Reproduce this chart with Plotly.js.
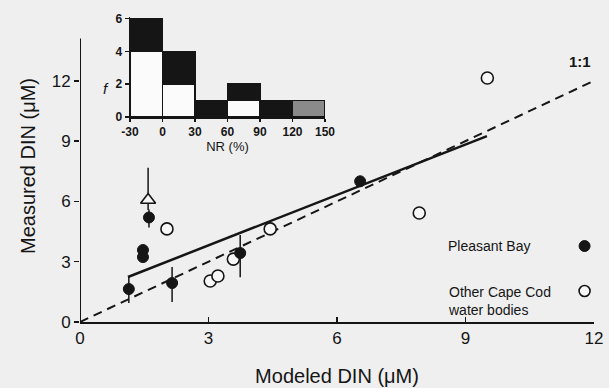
<!DOCTYPE html>
<html>
<head>
<meta charset="utf-8">
<script src="https://cdn.plot.ly/plotly-3.0.1.min.js"></script>
<style>html,body{margin:0;padding:0;background:#efefef;}</style>
</head>
<body>
<div id="chart" style="width:609px;height:388px;"></div>
<script>
// Pleasant Bay (filled circles)
var pbX = [1.14, 1.47, 1.47, 1.61, 2.15, 3.74, 6.54];
var pbY = [1.64, 3.58, 3.23, 5.20, 1.94, 3.43, 7.00];
var pbErrPlus  = [0.6, 0, 0, 0.4, 0.8, 0.9, 0];
var pbErrMinus = [0.7, 0, 0, 0.5, 0.95, 1.2, 0];
// Open triangle
var triX = [1.59];
var triY = [6.07];
var triErrPlus = [1.6];
var triErrMinus = [0.5];
// Other Cape Cod water bodies (open circles)
var ocX = [2.03, 3.04, 3.22, 3.58, 4.44, 7.92, 9.51];
var ocY = [4.63, 2.04, 2.29, 3.13, 4.63, 5.42, 12.14];
// Regression line and 1:1 line
var fitX = [1.12, 9.5];
var fitY = [2.24, 9.25];
var oneX = [0, 12];
var oneY = [0, 12];
// Inset histogram of NR (%)
var nrBins = [-15, 15, 45, 75, 105, 135];
var openCounts = [4, 2, 0, 1, 0, 0];
var filledCounts = [2, 2, 1, 1, 1, 0];
var triCounts = [0, 0, 0, 0, 0, 1];
var mainTicks = [0, 3, 6, 9, 12];
var nrTicks = [-30, 0, 30, 60, 90, 120, 150];
var nrTickText = ['-30', '0', '30', '60', '90', '120', '150'];
var fTicks = [0, 2, 4, 6];

var FONT = 'Liberation Sans, Arial, sans-serif';
var INK = '#151515';
var BG = '#efefef';

var traces = [
  {x: oneX, y: oneY, mode: 'lines', line: {color: INK, width: 2, dash: '9px,6px'}, hoverinfo: 'skip'},
  {x: fitX, y: fitY, mode: 'lines', line: {color: INK, width: 2.5}, hoverinfo: 'skip'},
  {x: ocX, y: ocY, mode: 'markers', marker: {symbol: 'circle', size: 12, color: '#f7f7f7', line: {color: INK, width: 1.6}}},
  {x: triX, y: triY, mode: 'markers', marker: {symbol: 'triangle-up', size: 13, color: '#f7f7f7', line: {color: INK, width: 1.6}},
   error_y: {type: 'data', symmetric: false, array: triErrPlus, arrayminus: triErrMinus, width: 0, thickness: 1.5, color: INK}},
  {x: pbX, y: pbY, mode: 'markers', marker: {symbol: 'circle', size: 11, color: INK, line: {color: INK, width: 1}},
   error_y: {type: 'data', symmetric: false, array: pbErrPlus, arrayminus: pbErrMinus, width: 0, thickness: 1.5, color: INK}},
  {type: 'bar', x: nrBins, y: openCounts, width: 30, xaxis: 'x2', yaxis: 'y2', marker: {color: '#fbfbfb', line: {color: INK, width: 1.5}}},
  {type: 'bar', x: nrBins, y: filledCounts, width: 30, xaxis: 'x2', yaxis: 'y2', marker: {color: INK, line: {color: INK, width: 1.5}}},
  {type: 'bar', x: nrBins, y: triCounts, width: 30, xaxis: 'x2', yaxis: 'y2', marker: {color: '#8a8a8a', line: {color: INK, width: 1.5}}}
];

var layout = {
  width: 609, height: 388,
  margin: {l: 80, r: 15, t: 10, b: 66},
  paper_bgcolor: BG, plot_bgcolor: 'rgba(0,0,0,0)',
  showlegend: false,
  barmode: 'stack',
  font: {family: FONT, color: INK},
  xaxis: {
    range: [0, 12], tickvals: mainTicks, ticks: 'inside', ticklen: 5, tickwidth: 1.5, tickcolor: INK,
    showline: true, linecolor: INK, linewidth: 2, showgrid: false, zeroline: false,
    tickfont: {size: 17, family: FONT, color: INK},
    title: {text: 'Modeled DIN (\u03bcM)', font: {size: 20, family: FONT, color: INK}, standoff: 22}
  },
  yaxis: {
    range: [0, 15.52], tickvals: mainTicks, ticks: 'outside', ticklen: 5, tickwidth: 1.5, tickcolor: INK,
    showline: false, showgrid: false, zeroline: false,
    tickfont: {size: 17, family: FONT, color: INK},
    title: {text: 'Measured DIN (\u03bcM)', font: {size: 20, family: FONT, color: INK}, standoff: 10}
  },
  xaxis2: {
    domain: [0.0973, 0.4767], anchor: 'y2', range: [-30, 150], tickvals: nrTicks, ticktext: nrTickText,
    ticks: 'outside', ticklen: 3, tickwidth: 1.5, tickcolor: INK,
    showline: true, linecolor: INK, linewidth: 1.5, showgrid: false, zeroline: false,
    tickfont: {size: 12, family: FONT, color: INK, weight: 'bold'},
    title: {text: 'NR (%)', font: {size: 13, family: FONT, color: INK}, standoff: 4}
  },
  yaxis2: {
    domain: [0.657, 0.9776], anchor: 'x2', range: [0, 6.1], tickvals: fTicks,
    ticks: 'outside', ticklen: 4, tickwidth: 1.5, tickcolor: INK,
    showline: true, linecolor: INK, linewidth: 1.5, showgrid: false, zeroline: false,
    tickfont: {size: 12, family: FONT, color: INK, weight: 'bold'}
  },
  shapes: [
    {type: 'line', xref: 'x', yref: 'y', x0: 0, x1: 0, y0: 0, y1: 14.1, line: {color: INK, width: 2}},
    {type: 'circle', xref: 'x', yref: 'y', xsizemode: 'pixel', ysizemode: 'pixel', xanchor: 11.78, yanchor: 3.78,
     x0: -5.5, x1: 5.5, y0: -5.5, y1: 5.5, fillcolor: INK, line: {color: INK, width: 1}},
    {type: 'circle', xref: 'x', yref: 'y', xsizemode: 'pixel', ysizemode: 'pixel', xanchor: 11.78, yanchor: 1.54,
     x0: -5.5, x1: 5.5, y0: -5.5, y1: 5.5, fillcolor: '#f7f7f7', line: {color: INK, width: 1.6}}
  ],
  annotations: [
    {text: '<b>1:1</b>', xref: 'x', yref: 'y', x: 11.68, y: 12.95, showarrow: false, font: {size: 15, family: FONT, color: INK}},
    {text: 'Pleasant Bay', xref: 'x', yref: 'y', x: 8.55, y: 3.78, xanchor: 'left', yanchor: 'middle', showarrow: false,
     font: {size: 14, family: FONT, color: INK}},
    {text: 'Other Cape Cod<br>water bodies', xref: 'x', yref: 'y', x: 8.55, y: 1.54, xanchor: 'left', yanchor: 'top', yshift: 9,
     align: 'left', showarrow: false, font: {size: 14, family: FONT, color: INK}},
    {text: '<i>f</i>', xref: 'paper', yref: 'paper', x: 0.041, y: 0.782, showarrow: false, font: {size: 15, family: FONT, color: INK}}
  ]
};

Plotly.newPlot('chart', traces, layout, {displayModeBar: false, staticPlot: true});
</script>
</body>
</html>
